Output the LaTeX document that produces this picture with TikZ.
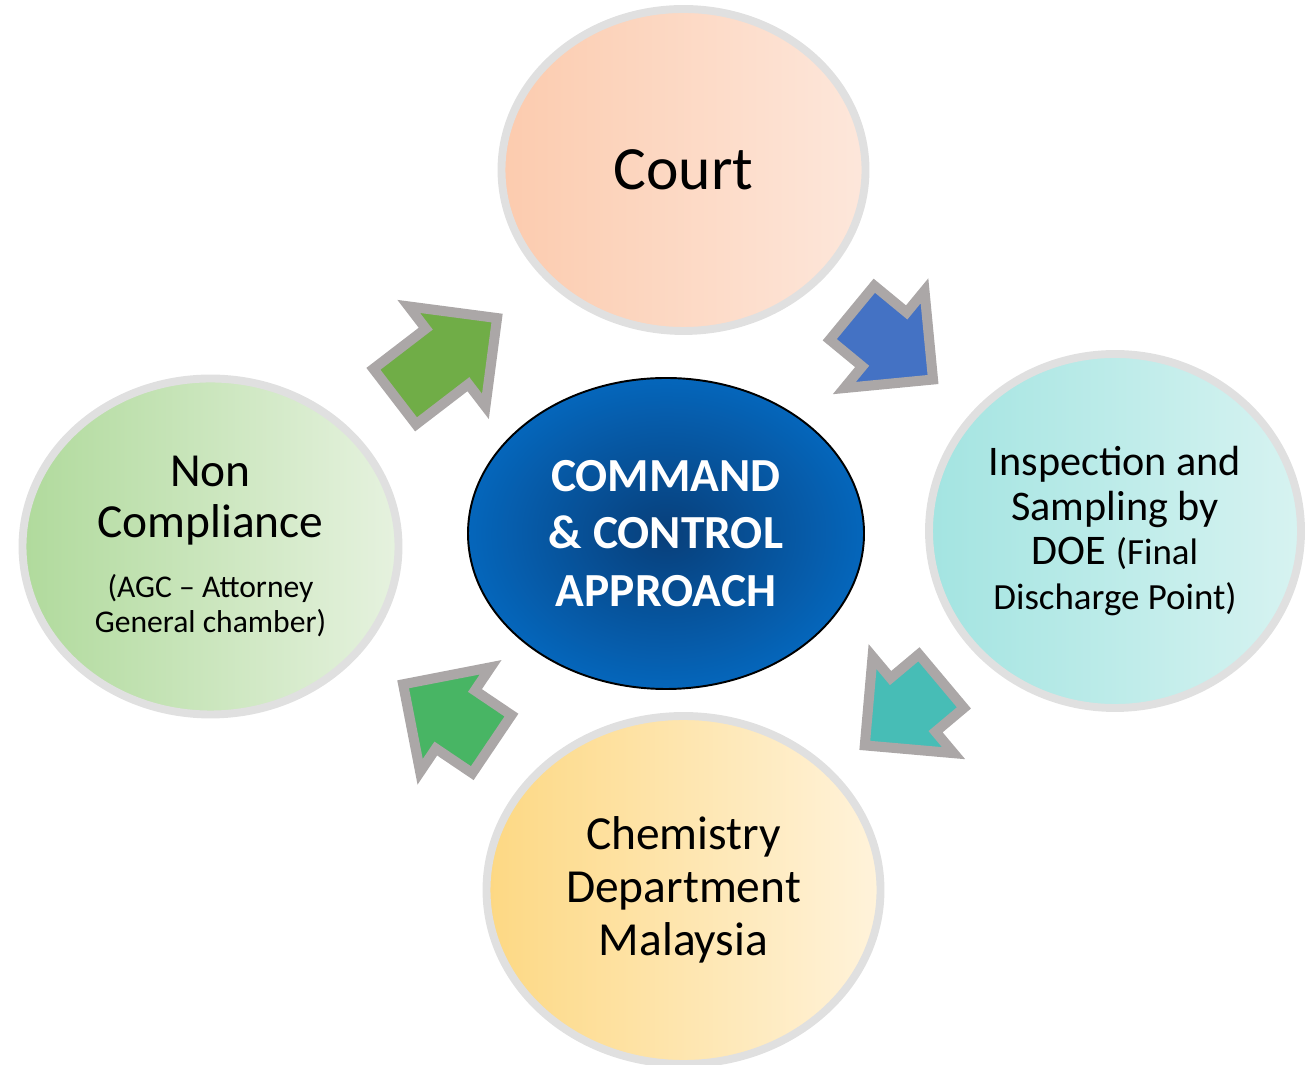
\documentclass[tikz,border=0pt]{standalone}
\usepackage{fontspec}
\setmainfont{Carlito}
\usepackage{tikz}
\definecolor{RingGray}{HTML}{E0E0E0}
\definecolor{ArrowGray}{HTML}{ABA7A7}
\definecolor{PeachDark}{HTML}{FCCBAE}
\definecolor{PeachLight}{HTML}{FDE7DB}
\definecolor{TealDark}{HTML}{A3E4E1}
\definecolor{TealLight}{HTML}{D7F3F1}
\definecolor{GoldDark}{HTML}{FDD883}
\definecolor{GoldLight}{HTML}{FFF3DB}
\definecolor{LeafDark}{HTML}{B0DA9C}
\definecolor{LeafLight}{HTML}{E6F2DF}
\definecolor{CoreDark}{HTML}{083F7A}
\definecolor{CoreLight}{HTML}{0566BB}
\definecolor{ArrowLeaf}{HTML}{70AD47}
\definecolor{ArrowBlue}{HTML}{4472C4}
\definecolor{ArrowTeal}{HTML}{47BDB6}
\definecolor{ArrowGreen}{HTML}{48B564}
\usetikzlibrary{shapes.geometric, shapes.arrows, positioning}
\tikzset{
  phasebox/.style={ellipse, draw=RingGray, line width=4.5pt, inner sep=0pt, align=center, text=black},
  corebox/.style={ellipse, draw=black, line width=1.1pt, inner sep=0pt, shading=radial, inner color=CoreDark, outer color=CoreLight, text=white, align=center, font=\fontsize{27}{32.5}\selectfont\bfseries},
  cyclearrow/.style={single arrow, draw=ArrowGray, line width=5.7pt, minimum height=2.1cm, inner xsep=0pt, inner ysep=0.6cm, single arrow head extend=0.56cm, single arrow tip angle=90, single arrow head indent=0pt}
}

\begin{document}
\begin{tikzpicture}
  \useasboundingbox (0,0) rectangle (26.28,21.28);

  \node[phasebox, left color=PeachDark, right color=PeachLight, minimum width=7.28cm, minimum height=6.44cm, font=\fontsize{35}{42}\selectfont] (court) at (13.67,17.88) {Court};
  \node[phasebox, left color=TealDark, right color=TealLight, minimum width=7.44cm, minimum height=7.08cm, font=\fontsize{24}{25.5}\selectfont] (inspect) at (22.3,10.66) {Inspection and\\Sampling by\\DOE {\fontsize{21}{25.5}\selectfont(Final}\\{\fontsize{21}{25.5}\selectfont Discharge Point)}};
  \node[phasebox, left color=GoldDark, right color=GoldLight, minimum width=7.88cm, minimum height=6.96cm, font=\fontsize{27}{30}\selectfont] (chem) at (13.67,3.48) {Chemistry\\Department\\Malaysia};
  \node[phasebox, left color=LeafDark, right color=LeafLight, minimum width=7.52cm, minimum height=6.72cm, font=\fontsize{27}{29}\selectfont] (noncomp) at (4.21,10.35) {Non\\Compliance\\[5pt]{\fontsize{18}{20}\selectfont(AGC -- Attorney}\\[-9pt]{\fontsize{18}{20}\selectfont General chamber)}};

  \node[corebox, minimum width=7.92cm, minimum height=6.22cm] (core) at (13.32,10.61) {COMMAND\\\& CONTROL\\APPROACH};

  % cycle arrows
  \node[cyclearrow, fill=ArrowLeaf, minimum height=2.58cm, rotate=37.5] (arrLeaf) at (8.64,13.92) {};
  \node[cyclearrow, fill=ArrowBlue, rotate=-39.5] (arrBlue) at (17.58,14.58) {};
  \node[cyclearrow, fill=ArrowTeal, minimum height=2.0cm, rotate=220] (arrTeal) at (18.33,7.24) {};
  \node[cyclearrow, fill=ArrowGreen, minimum height=2.14cm, rotate=146] (arrGreen) at (9.24,6.80) {};
\end{tikzpicture}
\end{document}
